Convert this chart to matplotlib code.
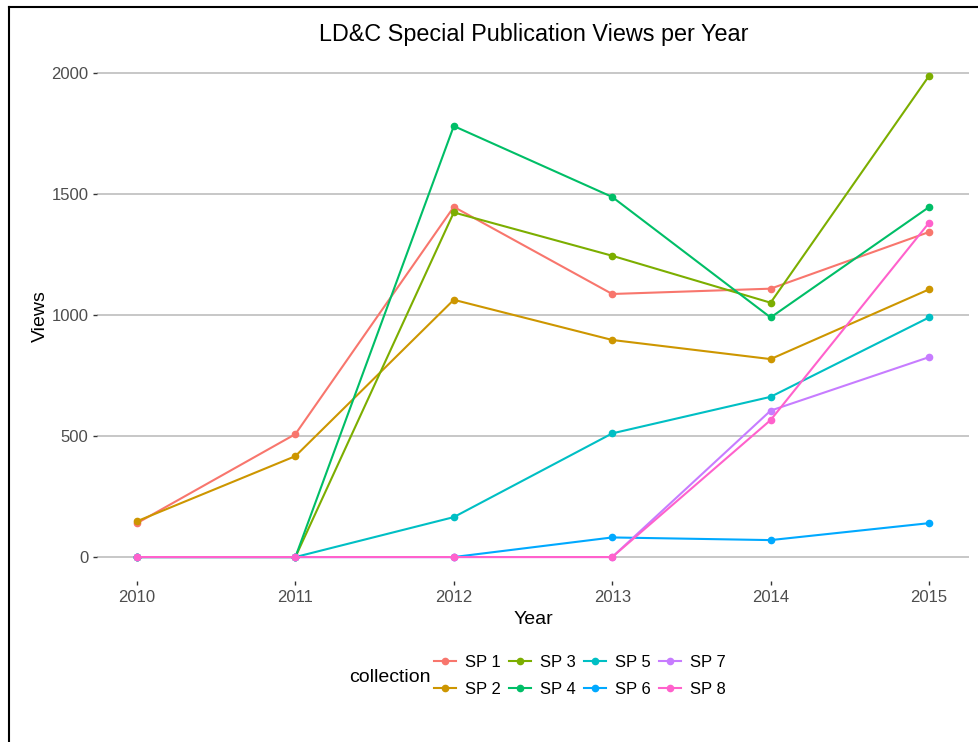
import matplotlib
matplotlib.use("Agg")
import matplotlib.pyplot as plt
from matplotlib.lines import Line2D

plt.rcParams['font.family'] = ['Liberation Sans', 'DejaVu Sans']

# data
years = [2010, 2011, 2012, 2013, 2014, 2015]
collections = ["SP 1", "SP 2", "SP 3", "SP 4", "SP 5", "SP 6", "SP 7", "SP 8"]
sp1 = [140, 508, 1447, 1087, 1109, 1343]
sp2 = [148, 417, 1063, 897, 818, 1106]
sp3 = [0, 0, 1424, 1245, 1051, 1988]
sp4 = [0, 0, 1781, 1488, 990, 1446]
sp5 = [0, 0, 165, 511, 662, 990]
sp6 = [0, 0, 0, 81, 70, 140]
sp7 = [0, 0, 0, 0, 605, 826]
sp8 = [0, 0, 0, 0, 566, 1381]
series = [sp1, sp2, sp3, sp4, sp5, sp6, sp7, sp8]

# ggplot default hue palette for 8 groups
colors = ["#F8766D", "#CD9600", "#7CAE00", "#00BE67",
          "#00BFC4", "#00A9FF", "#C77CFF", "#FF61CC"]

fig = plt.figure(figsize=(9.79, 7.42), dpi=100)
ax = fig.add_axes([97.4 / 979, 1 - 581 / 742, (968.6 - 97.4) / 979, (581 - 52) / 742])

for name, vals, col in zip(collections, series, colors):
    ax.plot(years, vals, color=col, lw=1.5, marker='o', ms=4.5, label=name)

ax.set_xlim(2009.75, 2015.25)
ax.set_ylim(-99, 2087)
ax.set_yticks([0, 500, 1000, 1500, 2000])
ax.set_xticks(years)
ax.grid(axis='y', color='#bebebe', lw=1.2)
ax.set_axisbelow(True)
for s in ax.spines.values():
    s.set_visible(False)
ax.tick_params(colors='#333333', labelcolor='#4d4d4d', labelsize=12, length=3, width=1)

ax.set_xlabel("Year", fontsize=14, labelpad=4)
ax.set_ylabel("Views", fontsize=14, labelpad=2)
fig.text(0.545, 1 - 34 / 742, "LD&C Special Publication Views per Year",
         ha='center', va='center', fontsize=16.8)

# legend at the bottom, with its title on the left
handles = [Line2D([], [], color=c, lw=1.5, marker='o', ms=4.5) for c in colors]
leg = fig.legend(handles, collections, ncol=4, loc='center',
                 bbox_to_anchor=(0.592, 1 - 676 / 742), frameon=False,
                 fontsize=12, handlelength=1.35, handletextpad=0.5,
                 columnspacing=0.5, labelspacing=0.7)
fig.text(390 / 979, 1 - 678 / 742, "collection", ha='center', va='center', fontsize=14)

# screenshot frame lines at the left and top
fig.add_artist(Line2D([9 / 979, 9 / 979], [0, 1 - 7 / 742], color='black', lw=1.5))
fig.add_artist(Line2D([9 / 979, 1], [1 - 7 / 742, 1 - 7 / 742], color='black', lw=1.5))

fig.savefig("out.png", dpi=100)
